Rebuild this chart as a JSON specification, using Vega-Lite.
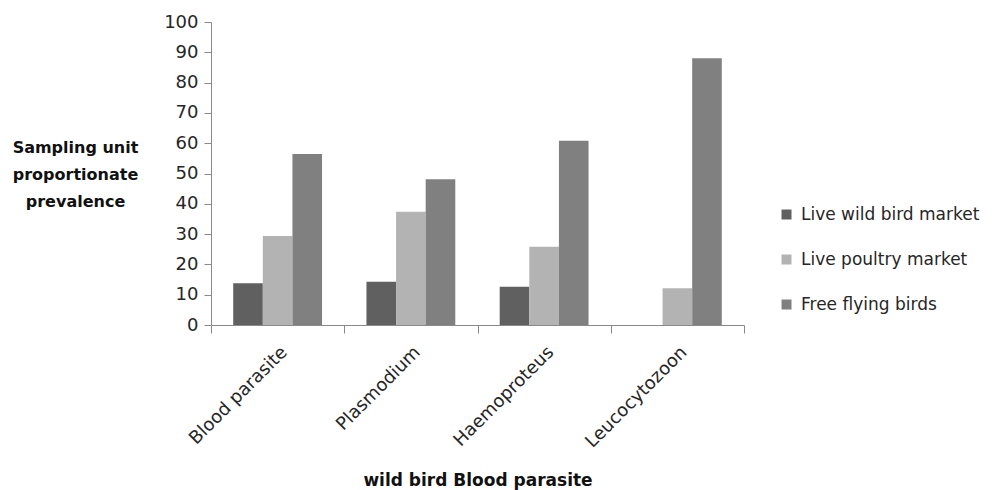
{
  "$schema": "https://vega.github.io/schema/vega-lite/v6.json",
  "width": 533,
  "height": 303,
  "autosize": "none",
  "padding": {"left": 211, "top": 22, "right": 255, "bottom": 165},
  "background": "white",
  "config": {
    "view": {"stroke": null},
    "font": "DejaVu Sans",
    "axis": {
      "domainColor": "#8a8a8a",
      "tickColor": "#8a8a8a",
      "labelColor": "#262626",
      "titleColor": "#111111",
      "grid": false
    }
  },
  "data": {
    "values": [
      {"parasite": "Blood parasite", "site": "Live wild bird market", "prevalence": 13.8},
      {"parasite": "Blood parasite", "site": "Live poultry market", "prevalence": 29.4},
      {"parasite": "Blood parasite", "site": "Free flying birds", "prevalence": 56.4},
      {"parasite": "Plasmodium", "site": "Live wild bird market", "prevalence": 14.3},
      {"parasite": "Plasmodium", "site": "Live poultry market", "prevalence": 37.4},
      {"parasite": "Plasmodium", "site": "Free flying birds", "prevalence": 48.1},
      {"parasite": "Haemoproteus", "site": "Live wild bird market", "prevalence": 12.6},
      {"parasite": "Haemoproteus", "site": "Live poultry market", "prevalence": 25.8},
      {"parasite": "Haemoproteus", "site": "Free flying birds", "prevalence": 60.8},
      {"parasite": "Leucocytozoon", "site": "Live wild bird market", "prevalence": 0},
      {"parasite": "Leucocytozoon", "site": "Live poultry market", "prevalence": 12.1},
      {"parasite": "Leucocytozoon", "site": "Free flying birds", "prevalence": 88.0}
    ]
  },
  "mark": {"type": "bar"},
  "encoding": {
    "x": {
      "field": "parasite",
      "type": "nominal",
      "sort": ["Blood parasite", "Plasmodium", "Haemoproteus", "Leucocytozoon"],
      "scale": {"paddingInner": 0, "paddingOuter": 0},
      "axis": {
        "title": "wild bird Blood parasite",
        "titleFontSize": 17,
        "titleFontWeight": "bold",
        "titleY": 160,
        "titleBaseline": "alphabetic",
        "labelAngle": -45,
        "labelFontSize": 18,
        "labelPadding": 10,
        "labelLimit": 300,
        "tickBand": "extent",
        "tickSize": 8
      }
    },
    "xOffset": {
      "field": "site",
      "sort": ["Live wild bird market", "Live poultry market", "Free flying birds"],
      "scale": {"paddingInner": 0, "paddingOuter": 0.75}
    },
    "y": {
      "field": "prevalence",
      "type": "quantitative",
      "scale": {"domain": [0, 100], "nice": false},
      "axis": {
        "values": [0, 10, 20, 30, 40, 50, 60, 70, 80, 90, 100],
        "labelFontSize": 18,
        "tickSize": 7,
        "labelPadding": 6,
        "title": ["Sampling unit", "proportionate", "prevalence"],
        "titleAngle": 0,
        "titleAlign": "center",
        "titleBaseline": "alphabetic",
        "titleFontSize": 16,
        "titleFontWeight": "bold",
        "titleLineHeight": 27,
        "titleX": -136,
        "titleY": 130
      }
    },
    "color": {
      "field": "site",
      "type": "nominal",
      "scale": {
        "domain": ["Live wild bird market", "Live poultry market", "Free flying birds"],
        "range": ["#606060", "#b3b3b3", "#808080"]
      },
      "legend": {
        "title": null,
        "orient": "none",
        "legendX": 567,
        "legendY": 184,
        "symbolType": "square",
        "symbolSize": 100,
        "symbolStrokeWidth": 0,
        "symbolOpacity": 1,
        "labelFontSize": 17,
        "labelLimit": 300,
        "labelColor": "#262626",
        "labelOffset": 6,
        "rowPadding": 27
      }
    }
  }
}
